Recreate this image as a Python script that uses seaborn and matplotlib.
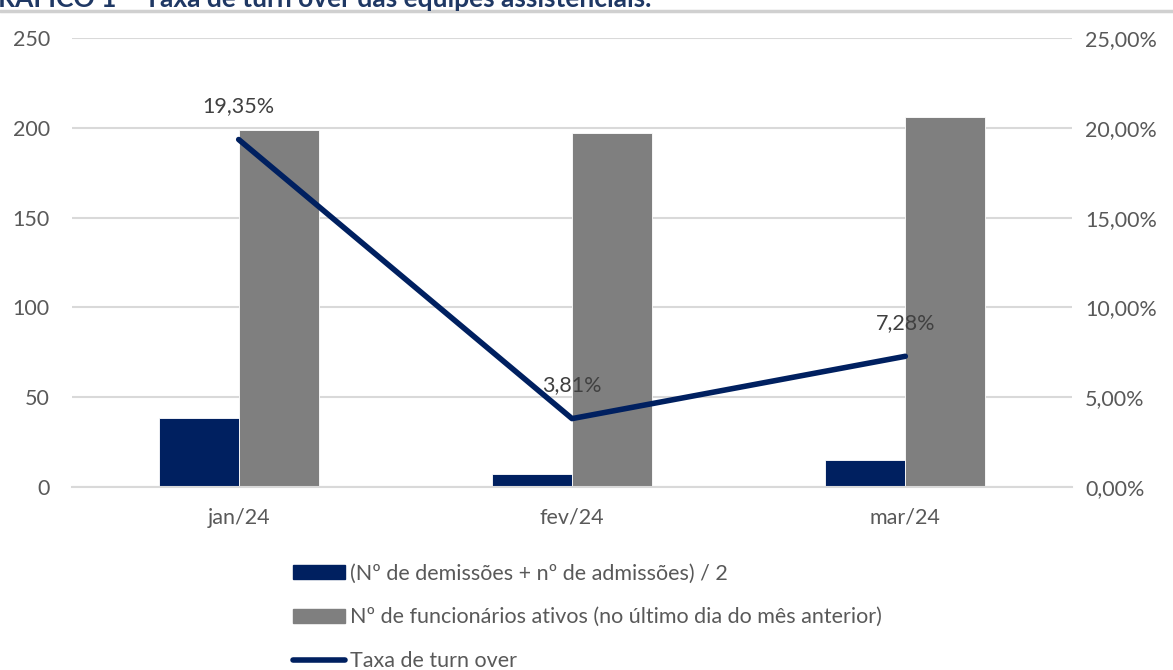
import numpy as np
import pandas as pd
import matplotlib
matplotlib.use("Agg")
import matplotlib.pyplot as plt
import seaborn as sns
from matplotlib.lines import Line2D
from matplotlib.patches import Patch
from matplotlib.ticker import FuncFormatter, FixedLocator

# data
months = ["jan/24", "fev/24", "mar/24"]
movimentacao = [38.5, 7.5, 15]          # (demissões + admissões) / 2
ativos = [199, 197, 206]                # funcionários ativos
turnover = [19.35, 3.81, 7.28]          # taxa de turn over (%)

label_mov = "(Nº de demissões + nº de admissões) / 2"
label_ativos = "Nº de funcionários ativos (no último dia do mês anterior)"
label_turn = "Taxa de turn over"

navy = "#002060"
gray = "#7f7f7f"
grid_c = "#d9d9d9"
text_c = "#595959"
fs = 15.5

sns.set_theme(style="white")
plt.rcParams["font.family"] = ["Lato", "DejaVu Sans"]

df = pd.DataFrame({
    "mes": months * 2,
    "valor": movimentacao + ativos,
    "serie": [label_mov] * 3 + [label_ativos] * 3,
})

fig = plt.figure(figsize=(11.73, 6.7), dpi=100)
ax = fig.add_axes([0.0614, 0.2731, 0.8525, 0.6701])

sns.barplot(data=df, x="mes", y="valor", hue="serie", order=months,
            hue_order=[label_mov, label_ativos], palette=[navy, gray],
            width=0.48, saturation=1, edgecolor="white", linewidth=0.6,
            legend=False, ax=ax)

ax.set_ylim(0, 250)
ax.set_xlim(-0.5, 2.5)
ax.set_yticks(range(0, 251, 50))
ax.yaxis.grid(True, color=grid_c, linewidth=1.5)
ax.set_axisbelow(True)
ax.set_xlabel("")
ax.set_ylabel("")
for s in ["top", "left", "right"]:
    ax.spines[s].set_visible(False)
ax.spines["bottom"].set_color(grid_c)
ax.spines["bottom"].set_linewidth(1.5)
ax.tick_params(axis="y", length=0, pad=16, labelsize=fs, labelcolor=text_c)
ax.tick_params(axis="x", which="major", length=0, pad=15, labelsize=fs, labelcolor=text_c)
ax.xaxis.set_minor_locator(FixedLocator([-0.5, 0.5, 1.5, 2.5]))
ax.tick_params(axis="x", which="minor", length=7, width=1.5, color=grid_c)

ax2 = ax.twinx()
x_pos = np.arange(len(months))
sns.lineplot(x=x_pos, y=turnover, color=navy, linewidth=4,
             solid_capstyle="round", ax=ax2, legend=False)
ax2.set_ylim(0, 25)
ax2.set_yticks(range(0, 26, 5))
ax2.yaxis.set_major_formatter(FuncFormatter(lambda v, p: f"{v:.2f}%".replace(".", ",")))
ax2.tick_params(axis="y", length=0, pad=9.5, labelsize=fs, labelcolor=text_c)
for s in ["top", "left", "right", "bottom"]:
    ax2.spines[s].set_visible(False)
ax2.set_ylabel("")

for xi, v in zip(x_pos, turnover):
    ax2.annotate(f"{v:.2f}%".replace(".", ","), (xi, v), xytext=(0, 17),
                 textcoords="offset points", ha="center", va="bottom",
                 fontsize=fs, color="#404040")

# header (cut off at the top, as in the source)
fig.text(-0.018, 1 - 7 / 670, "GRÁFICO 1 – Taxa de turn over das equipes assistenciais.",
         fontsize=19, fontweight="bold", color="#1f3864", va="baseline", ha="left")
fig.add_artist(Line2D([0, 1], [1 - 10.5 / 670] * 2, color="#d0d0d0", linewidth=2.5,
                      transform=fig.transFigure))

handles = [Patch(facecolor=navy, edgecolor=navy),
           Patch(facecolor=gray, edgecolor=gray),
           Line2D([], [], color=navy, linewidth=4, solid_capstyle="round")]
fig.legend(handles, [label_mov, label_ativos, label_turn],
           loc="upper left", bbox_to_anchor=(284 / 1173, 1 - 555 / 670),
           frameon=False, fontsize=fs, labelcolor=text_c,
           handlelength=2.45, handleheight=0.65, handletextpad=0.2,
           labelspacing=1.1, borderaxespad=0)

fig.savefig("out.png", dpi=100)
